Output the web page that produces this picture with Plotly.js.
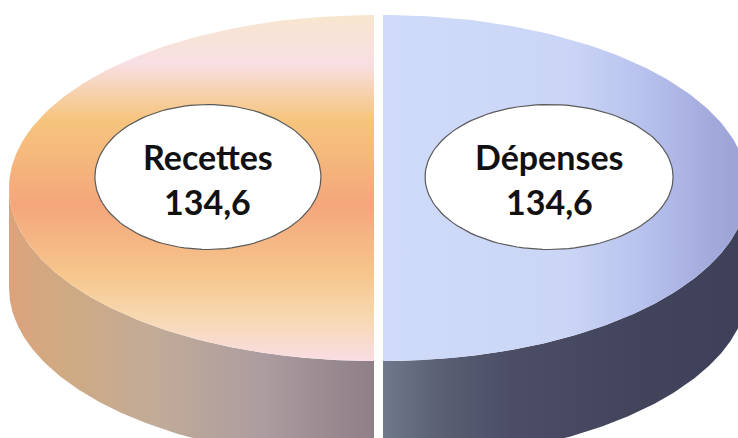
<!DOCTYPE html>
<html>
<head>
<meta charset="utf-8">
<script src="https://cdn.plot.ly/plotly-3.0.1.min.js"></script>
<style>html,body{margin:0;padding:0;background:#fff;}#chart{width:738px;height:438px;}</style>
</head>
<body>
<div id="chart"></div>
<script>
// ---- data ----
const categories = ['Recettes', 'Dépenses'];
const values = [134.6, 134.6];
const valueLabels = ['134,6', '134,6'];

// ---- styling ----
const topScales = [
  [[0,'#f7e6ce'],[0.14,'#f8dfe4'],[0.3,'#f6c57e'],[0.55,'#f4a67b'],[0.75,'#f6c68c'],[0.87,'#f7d8b0'],[1,'#f9dde3']],
  [[0,'#cfdbf9'],[0.5,'#cbd6f6'],[0.72,'#b7c1ed'],[0.9,'#a2aadc'],[1,'#9aa1d4']]
];
const topType = ['vertical', 'horizontal'];
const sideScales = [
  [[0,'#dca37c'],[0.15,'#cfaa82'],[0.4,'#c2ab98'],[0.7,'#ab9c9f'],[1,'#8e7f88']],
  [[0,'#6f788c'],[0.15,'#5b6075'],[0.35,'#4b4e65'],[0.7,'#41445b'],[1,'#3d4058']]
];

const W = 738, H = 438;
const cx0 = 378.5, cy = 188, rx = 365, ry = 173, depth = 100, gap = 4.5;
const N = 160;

const total = values.reduce((a,b)=>a+b,0);
const traces = [];
const tops = [];
const labels = [];
const annotations = [];

// slice 1 (Dépenses) goes clockwise from top, slice 0 (Recettes) fills the rest
const ranges = [];
let fD = values[1] / total;
ranges[1] = [-90, -90 + 360*fD];
ranges[0] = [-90 + 360*fD, 270];

const rad = d => d*Math.PI/180;

for (let i = 0; i < categories.length; i++) {
  const [a0, a1] = ranges[i];
  const mid = (a0 + a1) / 2;
  const ox = cx0 + gap*Math.cos(rad(mid));
  const oy = cy + gap*Math.sin(rad(mid))*ry/rx;
  // top face
  const tx = [ox], ty = [oy];
  for (let k = 0; k <= N; k++) {
    const t = rad(a0 + (a1 - a0)*k/N);
    tx.push(ox + rx*Math.cos(t)); ty.push(oy + ry*Math.sin(t));
  }
  tx.push(ox); ty.push(oy);
  const xmin = Math.min(...tx), xmax = Math.max(...tx);
  const ymin = Math.min(...ty), ymax = Math.max(...ty);
  tops.push({
    type:'scatter', mode:'lines', x:tx, y:ty, fill:'toself',
    line:{width:0, color:'rgba(0,0,0,0)'},
    fillgradient: topType[i] === 'vertical'
      ? {type:'vertical', colorscale: topScales[i], start: ymin, stop: ymax}
      : {type:'horizontal', colorscale: topScales[i], start: xmin, stop: xmax},
    hoverinfo:'skip', showlegend:false
  });
  // side (visible front part: angles 0..180)
  const s0 = Math.max(a0, 0), s1 = Math.min(a1, 180);
  if (s1 > s0) {
    const sx = [], sy = [];
    for (let k = 0; k <= N; k++) {
      const t = rad(s0 + (s1 - s0)*k/N);
      sx.push(ox + rx*Math.cos(t)); sy.push(oy + ry*Math.sin(t));
    }
    for (let k = N; k >= 0; k--) {
      const t = rad(s0 + (s1 - s0)*k/N);
      sx.push(ox + rx*Math.cos(t)); sy.push(oy + ry*Math.sin(t) + depth);
    }
    sx.push(sx[0]); sy.push(sy[0]);
    traces.push({
      type:'scatter', mode:'lines', x:sx, y:sy, fill:'toself',
      line:{width:0, color:'rgba(0,0,0,0)'},
      fillgradient:{type:'horizontal', colorscale: sideScales[i], start: Math.min(...sx), stop: Math.max(...sx)},
      hoverinfo:'skip', showlegend:false
    });
  }
  // label bubble
  const lx = ox + 0.455*rx*Math.cos(rad(mid));
  const ly = oy - 11 + 0.455*ry*Math.sin(rad(mid));
  const erx = i === 0 ? 113 : 124, ery = 72.5;
  const ex = [], ey = [];
  for (let k = 0; k <= 120; k++) {
    const t = 2*Math.PI*k/120;
    ex.push(lx + erx*Math.cos(t)); ey.push(ly + ery*Math.sin(t));
  }
  labels.push({
    type:'scatter', mode:'lines', x:ex, y:ey, fill:'toself', fillcolor:'#ffffff',
    line:{width:1.2, color:'#5a5a5a'}, hoverinfo:'skip', showlegend:false
  });
  annotations.push({x:lx, y:ly - 21, xref:'x', yref:'y', text:'<b>'+categories[i]+'</b>', showarrow:false,
    font:{family:'Lato, "Open Sans", sans-serif', size:34, color:'#111'}, xanchor:'center', yanchor:'middle'});
  annotations.push({x:lx, y:ly + 24, xref:'x', yref:'y', text:'<b>'+valueLabels[i]+'</b>', showarrow:false,
    font:{family:'Lato, "Open Sans", sans-serif', size:34, color:'#111'}, xanchor:'center', yanchor:'middle'});
}

const data = traces.concat(tops, labels);
const layout = {
  width: W, height: H,
  margin:{l:0, r:0, t:0, b:0, pad:0},
  paper_bgcolor:'#ffffff', plot_bgcolor:'#ffffff',
  xaxis:{range:[0, W], visible:false, fixedrange:true},
  yaxis:{range:[H, 0], visible:false, fixedrange:true},
  showlegend:false,
  annotations: annotations
};
Plotly.newPlot('chart', data, layout, {displayModeBar:false, staticPlot:true});
</script>
</body>
</html>
